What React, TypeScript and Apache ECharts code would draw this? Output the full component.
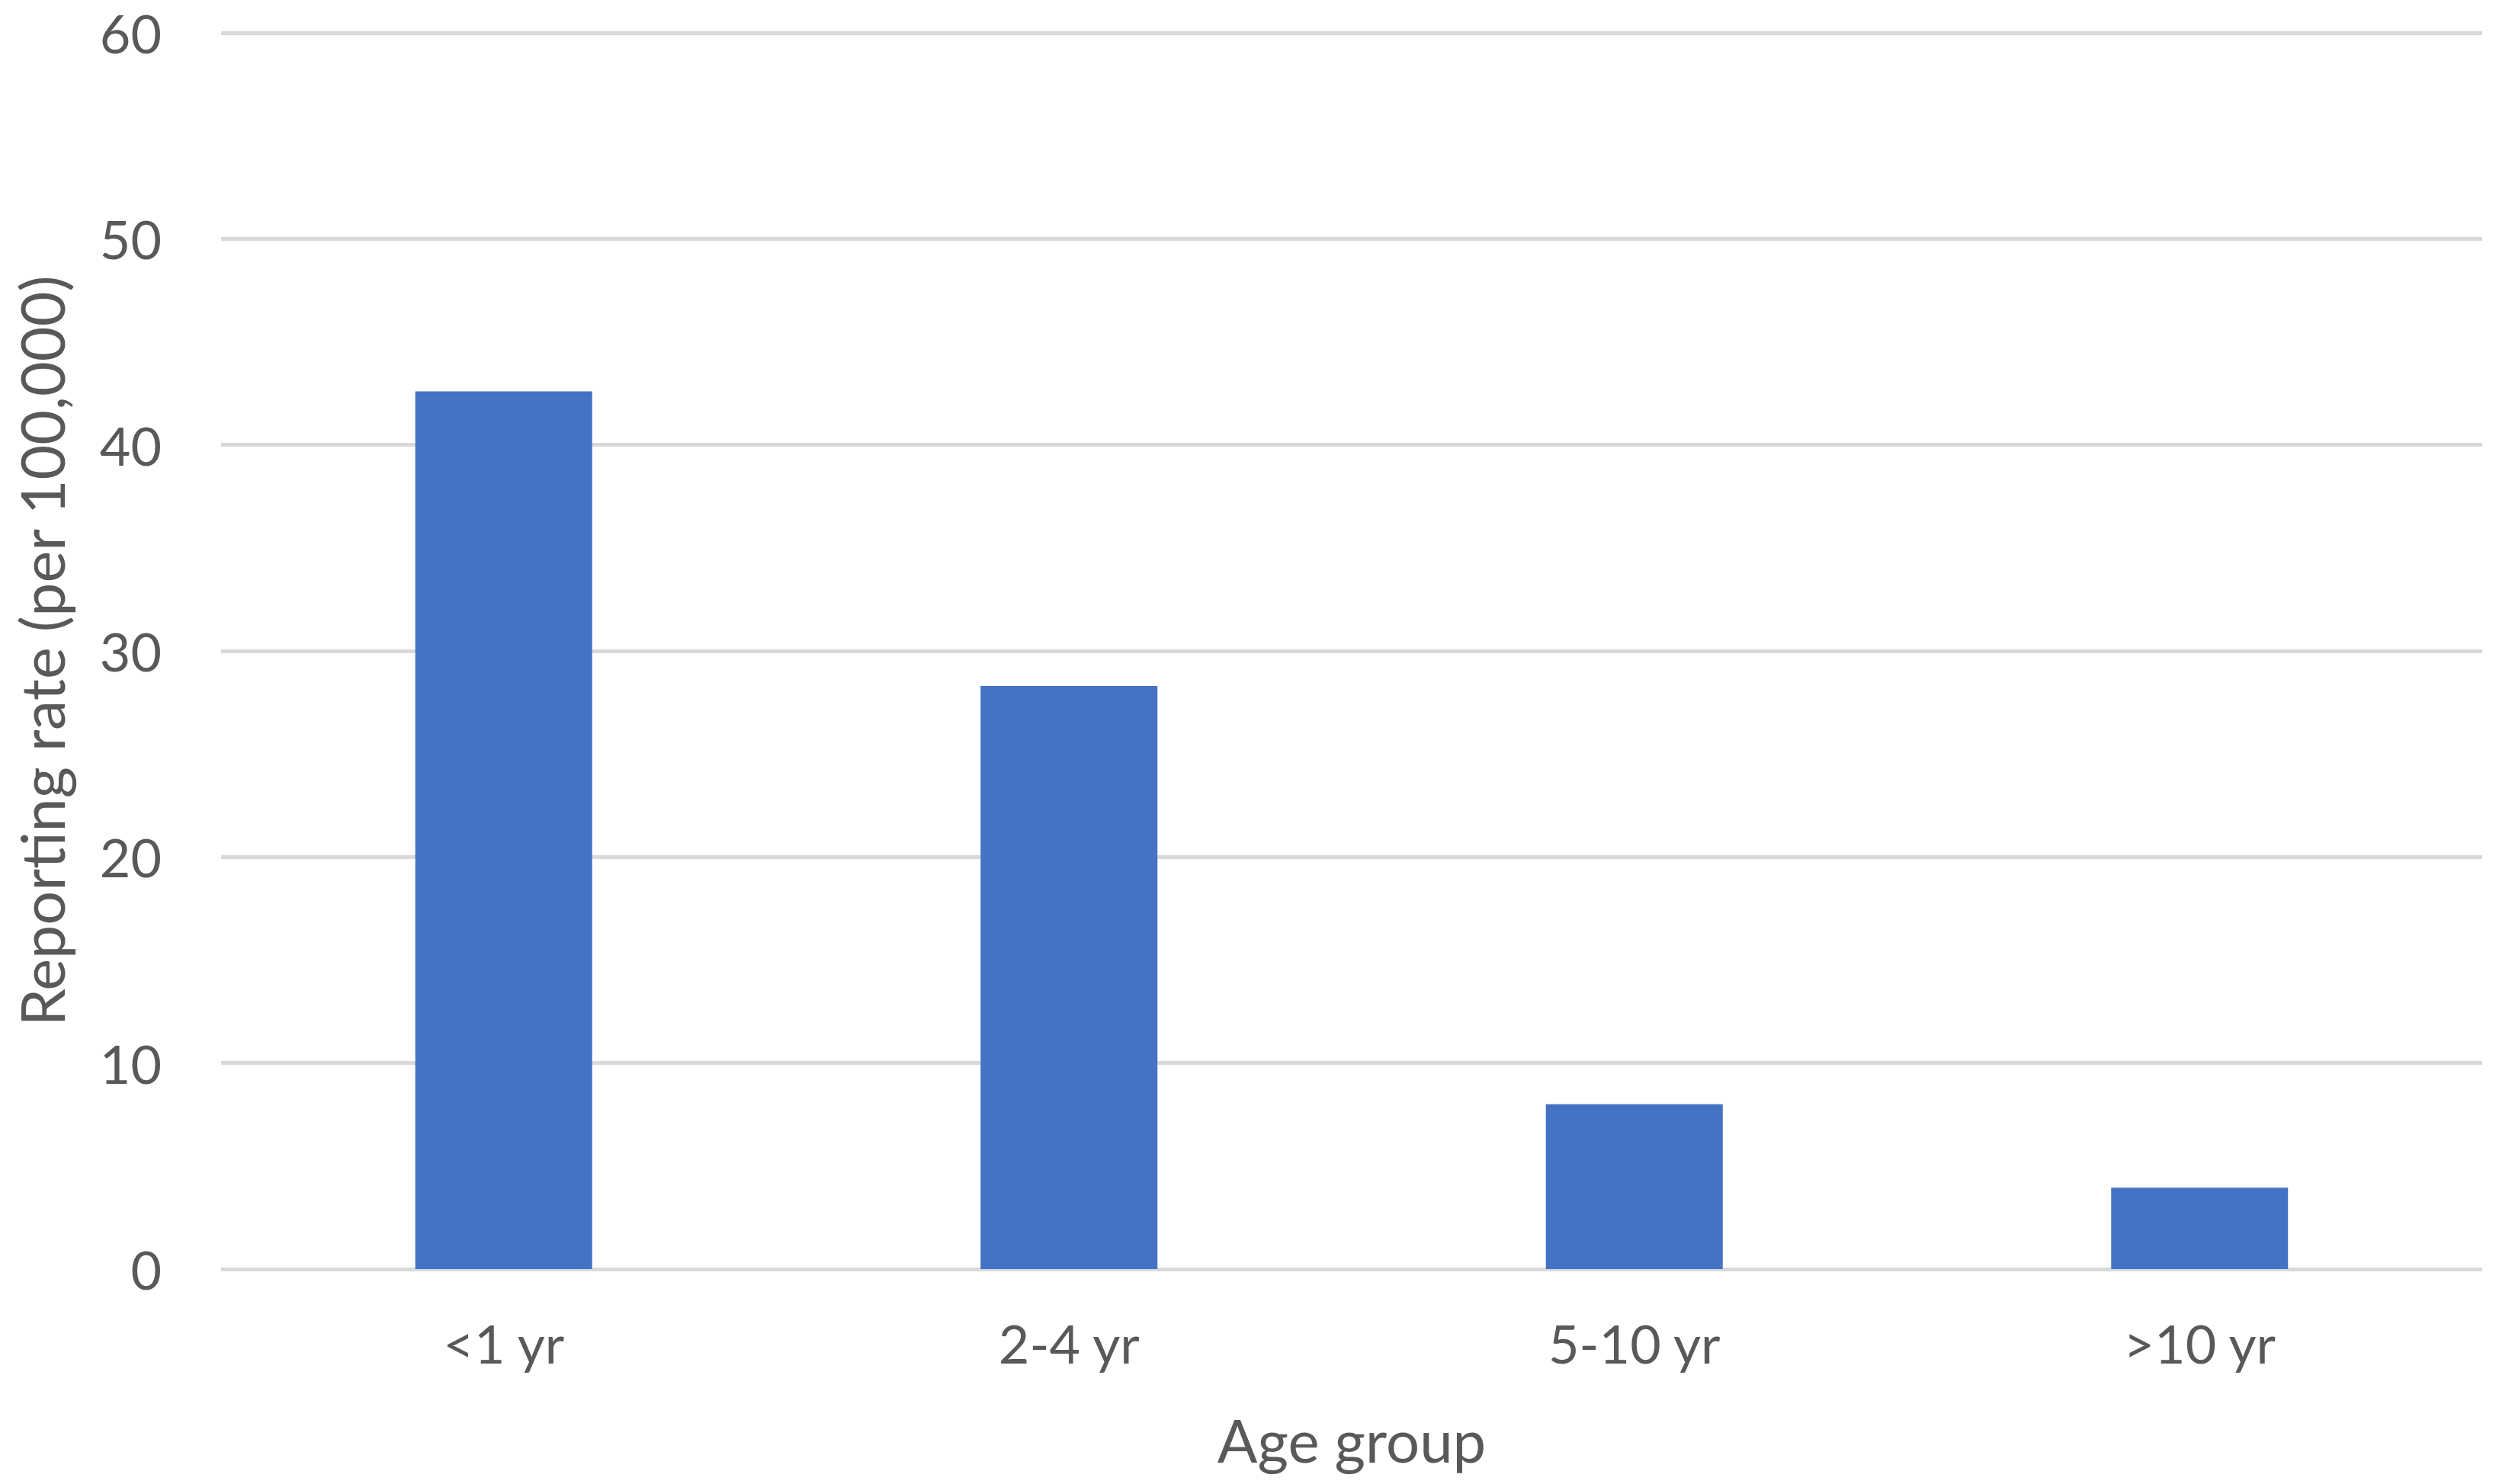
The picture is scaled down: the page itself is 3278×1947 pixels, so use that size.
import React, { useEffect, useRef } from "react";
import * as echarts from "echarts";

const categories = ["<1 yr", "2-4 yr", "5-10 yr", ">10 yr"];
const rates = [42.6, 28.3, 8.0, 3.95];
const yTicks = { min: 0, max: 60, interval: 10 };

export default function App() {
  const ref = useRef<HTMLDivElement>(null);
  useEffect(() => {
    if (!ref.current) return;
    const chart = echarts.init(ref.current, null, { renderer: "svg" });
    const font = "Lato, 'Open Sans', sans-serif";
    chart.setOption({
      animation: false,
      backgroundColor: "#ffffff",
      grid: { left: 290, right: 22, top: 43, bottom: 282, containLabel: false },
      xAxis: {
        type: "category",
        data: categories,
        name: "Age group",
        nameLocation: "middle",
        nameGap: 185,
        nameTextStyle: { fontSize: 78, color: "#595959", fontFamily: font },
        axisLine: { show: false },
        axisTick: { show: false },
        axisLabel: { fontSize: 70, color: "#595959", fontFamily: font, margin: 62 },
      },
      yAxis: {
        type: "value",
        min: yTicks.min,
        max: yTicks.max,
        interval: yTicks.interval,
        name: "Reporting rate (per 100,000)",
        nameLocation: "middle",
        nameGap: 196,
        nameTextStyle: { fontSize: 79, color: "#595959", fontFamily: font },
        axisLine: { show: false },
        axisTick: { show: false },
        axisLabel: { fontSize: 70, color: "#595959", fontFamily: font, margin: 78 },
        splitLine: { lineStyle: { color: "#d9d9d9", width: 5 } },
      },
      series: [
        {
          type: "bar",
          data: rates,
          barWidth: 232,
          itemStyle: { color: "#4472C4" },
        },
      ],
    });
    return () => chart.dispose();
  }, []);
  return (
    <div
      ref={ref}
      style={{ position: "fixed", left: 0, top: 0, width: 3278, height: 1947 }}
    />
  );
}
